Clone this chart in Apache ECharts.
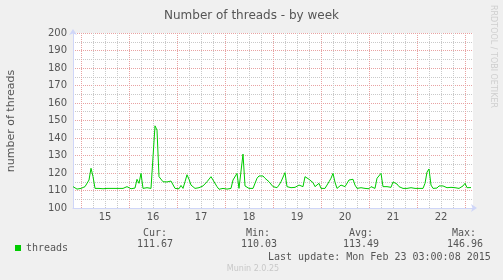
<!DOCTYPE html>
<html><head><meta charset="utf-8">
<script src="https://cdn.jsdelivr.net/npm/echarts@6/dist/echarts.min.js"></script>
<style>html,body{margin:0;padding:0;background:#F0F0F0}#c{width:503px;height:280px}</style>
</head><body><div id="c"></div>
<script>
// hours relative to Feb 15 00:00, one category per hour (Feb 14 20:00 .. Feb 23 04:00)
const firstHour = -4, lastHour = 196;
const categories = [];
for (let h = firstHour; h <= lastHour; h++) categories.push(h);
const dayLabels = ['15','16','17','18','19','20','21','22'];

const threads = [
112.2,111.6,110.8,111.4,111.2,112.2,112.2,112.6,116.0,122.7,
118.0,111.2,111.0,111.2,111.4,111.0,111.2,111.2,110.8,111.2,
111.4,111.2,111.0,111.2,111.6,111.2,111.0,112.2,111.2,111.0,
111.2,111.4,116.4,114.1,119.8,111.2,111.2,111.6,111.0,111.2,
112.0,146.96,144.5,117.9,117.0,115.0,115.6,114.9,115.0,115.4,
114.9,111.2,110.8,111.0,112.9,111.2,115.0,119.0,116.4,113.1,
112.2,111.2,112.2,111.6,112.2,112.6,113.1,115.0,116.0,117.9,
116.0,115.0,112.2,110.7,111.6,111.2,112.2,110.8,111.6,111.2,
116.0,115.0,119.8,111.2,110.3,130.8,112.6,112.2,111.2,112.2,
111.2,112.2,117.0,118.3,118.9,118.3,117.0,116.4,115.0,114.1,
112.2,111.2,111.6,113.1,115.0,114.1,120.2,112.2,111.2,111.6,
111.2,111.8,111.2,113.1,112.6,112.2,117.9,117.0,116.4,116.4,
114.5,112.2,111.2,114.1,111.2,112.2,111.2,112.2,115.0,117.0,
119.8,114.7,111.2,111.0,113.1,112.6,112.2,113.1,116.0,114.9,
116.4,113.1,111.2,112.2,111.6,112.2,111.2,111.2,111.0,112.2,
111.2,111.2,117.0,116.0,119.8,112.2,111.2,112.2,111.2,111.8,
114.9,114.1,113.7,112.2,111.2,111.2,111.4,111.2,111.2,111.6,
111.2,111.2,111.4,111.2,111.6,111.2,114.1,120.5,122.3,113.1,
111.2,111.2,111.4,112.6,111.6,112.6,112.9,111.6,112.6,111.8,
111.2,111.6,111.6,111.2,111.8,112.6,114.1,111.6,111.2,111.67
];

const statLabels = ['Cur:', 'Min:', 'Avg:', 'Max:'];
const statValues = ['111.67', '110.03', '113.49', '146.96'];
const seriesName = 'threads';
const titleText = 'Number of threads - by week';
const yName = 'number of threads';
const lastUpdate = 'Last update: Mon Feb 23 03:00:08 2015';
const footer = 'Munin 2.0.25';
const sideText = 'RRDTOOL / TOBI OETIKER';

const RED = '#e8a2a2', GRAY = '#c9c9c9', AXIS = '#CFD6F8', TXT = '#555';
const mono = 'DejaVu Sans Mono', sans = 'DejaVu Sans';

const chart = echarts.init(document.getElementById('c'), null, {renderer: 'canvas'});

const statX = [143, 246, 349, 452];
const valX = [137, 241, 343, 447];
const graphics = [
  {type:'text', x:11, y:121, rotation:Math.PI/2, style:{text:yName, fill:TXT, font:'11px "DejaVu Sans"', align:'center', verticalAlign:'middle'}},
  {type:'text', x:493, y:5, rotation:-Math.PI/2, style:{text:sideText, fill:'#cfcfcf', font:'8px "DejaVu Sans"', align:'left', verticalAlign:'middle'}},
  {type:'text', x:268, y:257, style:{text:lastUpdate, fill:TXT, font:'10px "DejaVu Sans Mono"', align:'left', verticalAlign:'middle'}},
  {type:'text', x:253, y:269, style:{text:footer, fill:'#c8c8c8', font:'8px "DejaVu Sans"', align:'center', verticalAlign:'middle'}}
];
statLabels.forEach((s, k) => {
  graphics.push({type:'text', x:statX[k], y:233, style:{text:s, fill:TXT, font:'10px "DejaVu Sans Mono"', align:'left', verticalAlign:'middle'}});
  graphics.push({type:'text', x:valX[k], y:244.5, style:{text:statValues[k], fill:TXT, font:'10px "DejaVu Sans Mono"', align:'left', verticalAlign:'middle'}});
});

chart.setOption({
  backgroundColor: '#F0F0F0',
  animation: false,
  title: {text: titleText, left: 'center', top: 5, textStyle: {fontSize: 12, fontWeight: 'normal', color: TXT, fontFamily: sans}},
  legend: {data:[seriesName], left: 10, top: 238, icon: 'rect', itemWidth: 6, itemHeight: 6, itemGap: 5,
    textStyle: {fontFamily: mono, fontSize: 10, color: TXT}},
  grid: {left: 73, top: 33, width: 400, height: 175, show: true, backgroundColor: '#fff', borderWidth: 0},
  xAxis: {
    type: 'category', data: categories, boundaryGap: false,
    axisLine: {show: true, lineStyle: {color: AXIS, width: 1}, symbol: ['none','arrow'], symbolSize: [6, 6], symbolOffset: [0, 4]},
    axisTick: {show: false},
    axisLabel: {
      interval: (i, v) => { const h = Number(v); return h >= 12 && (h - 12) % 24 === 0; },
      formatter: v => dayLabels[(Number(v) - 12) / 24] || '',
      fontFamily: sans, fontSize: 10, color: TXT, margin: 4
    },
    splitLine: {
      show: true,
      interval: (i, v) => { const h = Number(v); return h >= 0 && h % 6 === 0 && h < lastHour; },
      lineStyle: {color: [RED, GRAY, GRAY, GRAY], type: [1, 1], width: 1}
    }
  },
  yAxis: {
    type: 'value', min: 100, max: 200, interval: 5,
    axisLine: {show: true, lineStyle: {color: AXIS, width: 1}, symbol: ['none','arrow'], symbolSize: [6, 6], symbolOffset: [0, 4]},
    axisTick: {show: false},
    axisLabel: {formatter: v => (v % 10 === 0 ? String(v) : ''), fontFamily: sans, fontSize: 10, color: TXT, margin: 6},
    splitLine: {show: true, lineStyle: {color: [RED, GRAY], type: [1, 1], width: 1}}
  },
  series: [{
    name: seriesName, type: 'line', data: threads, showSymbol: false, symbol: 'none',
    itemStyle: {color: '#00CC00'}, lineStyle: {color: '#00CC00', width: 1}, z: 5
  }],
  graphic: graphics
});
</script>
</body></html>
